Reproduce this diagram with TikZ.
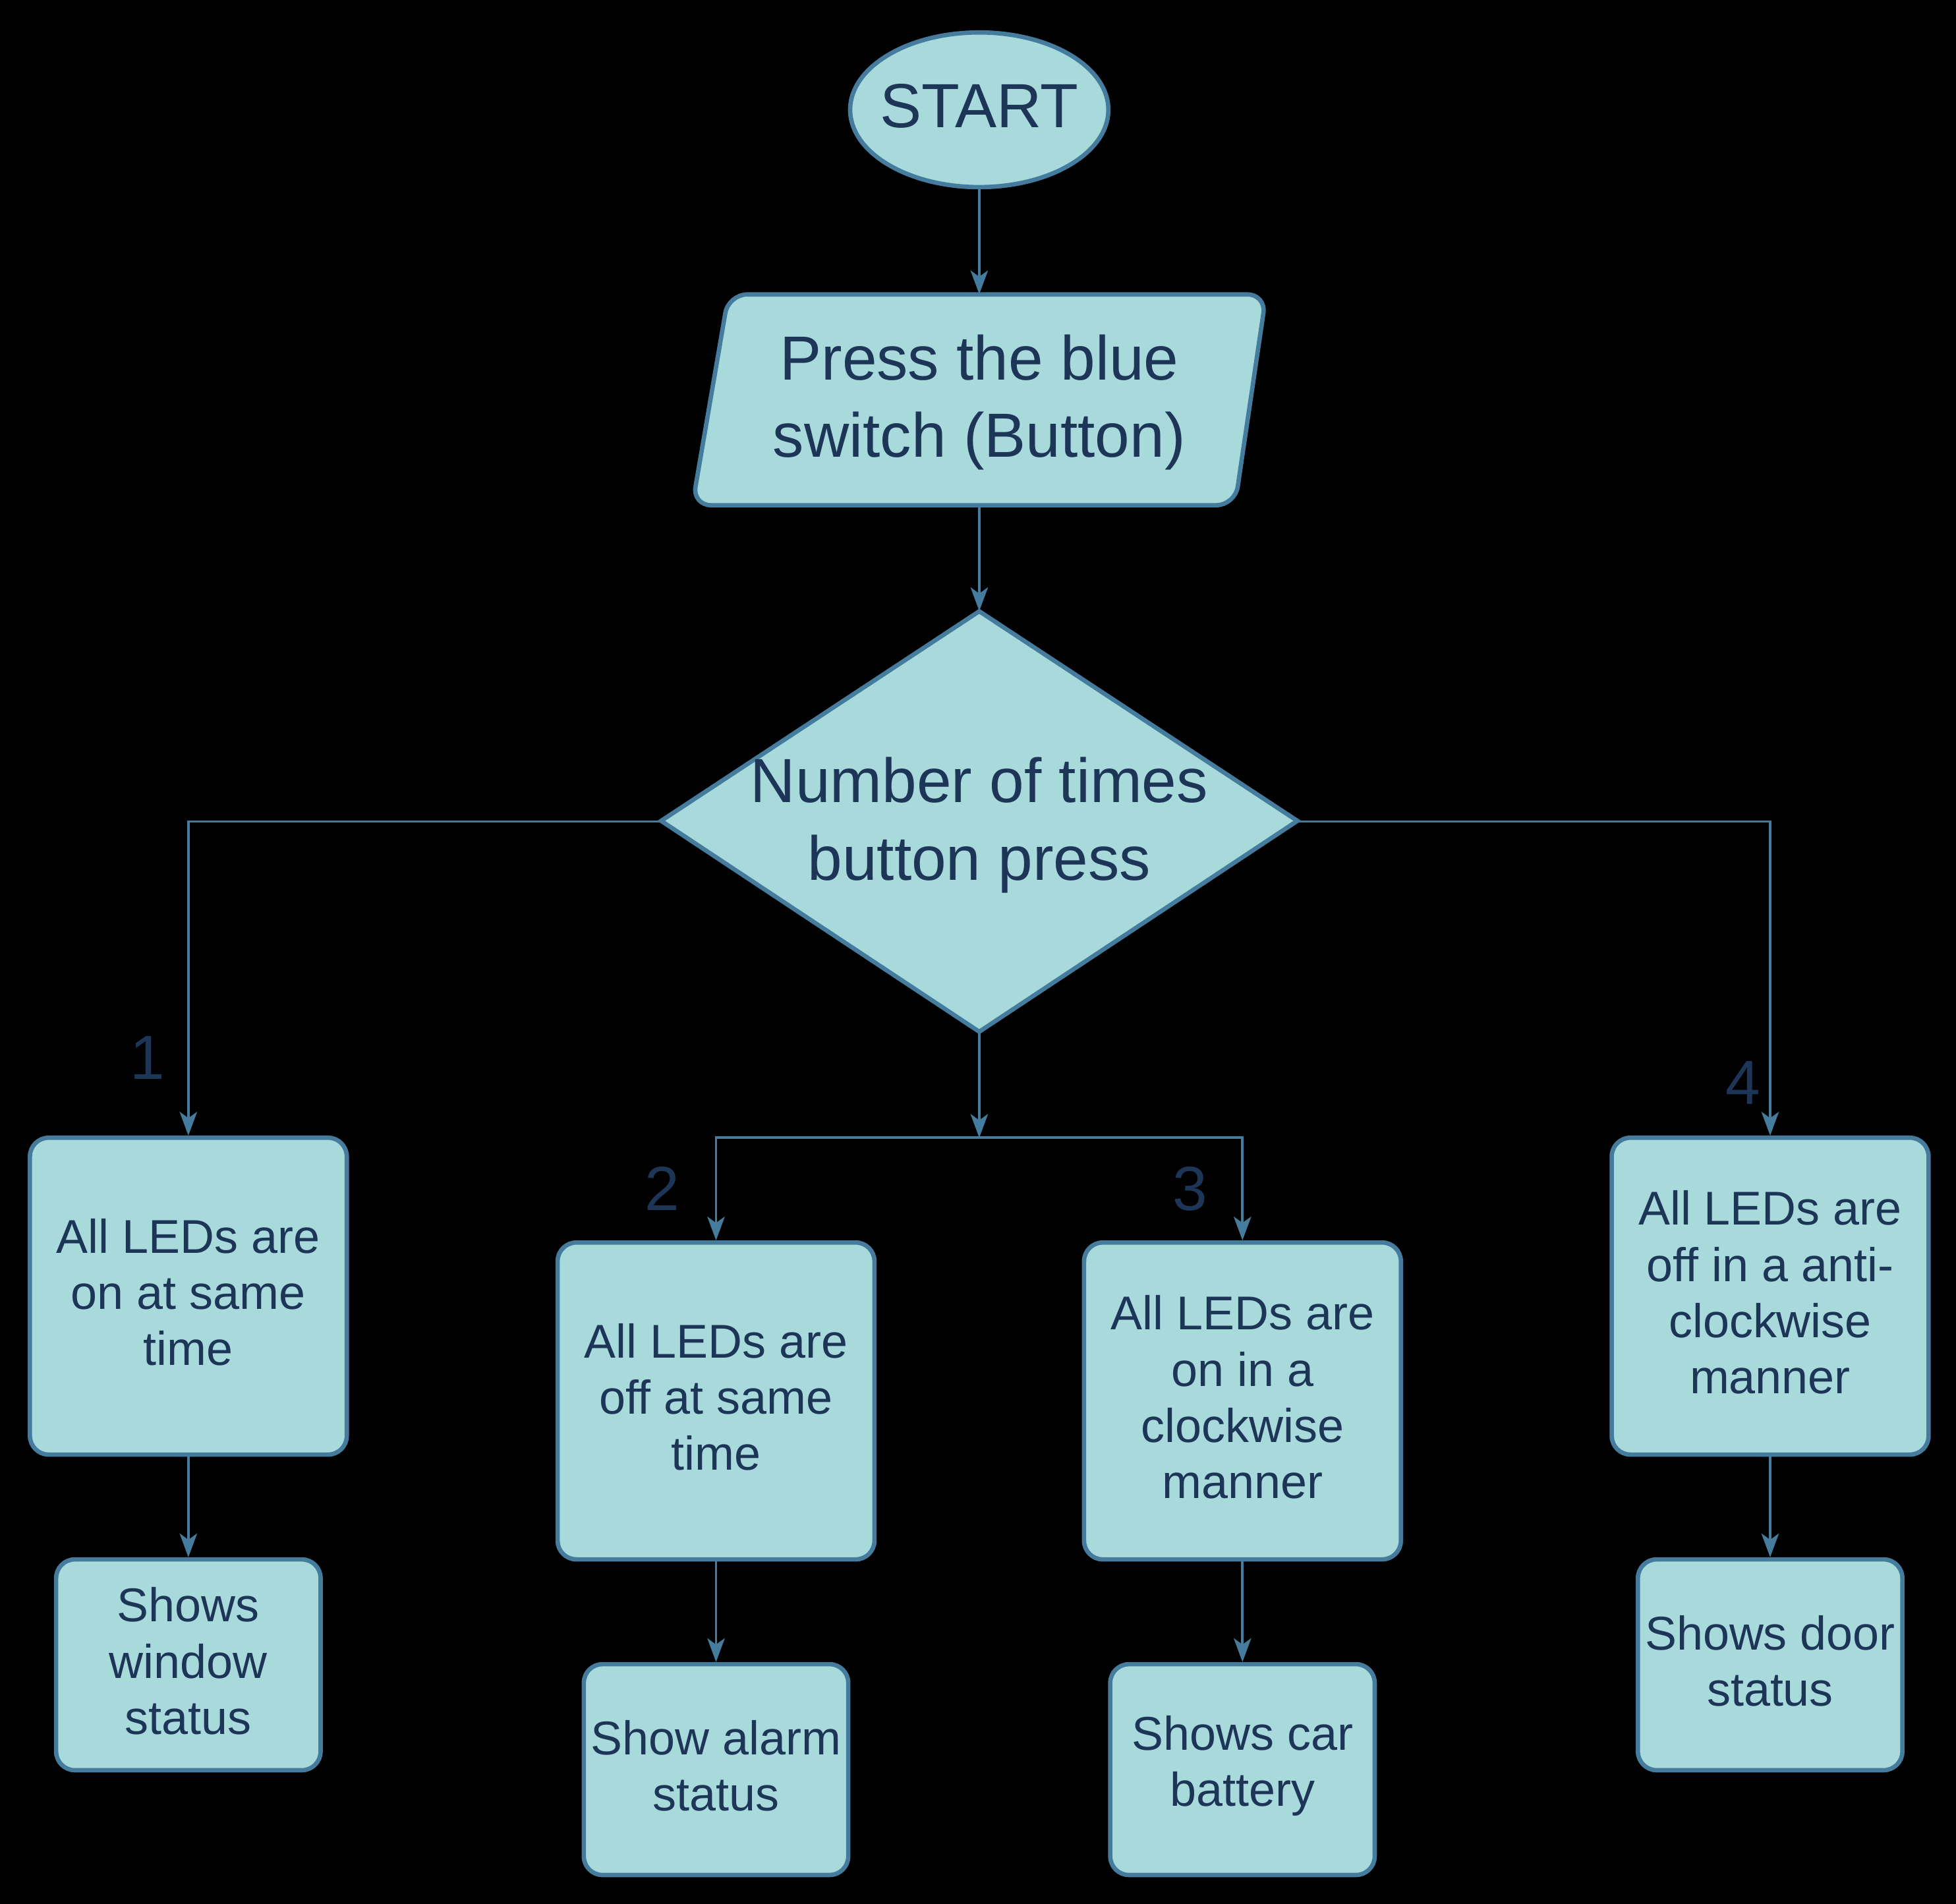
\documentclass[tikz,border=0pt]{standalone}
\usepackage{fontspec}
\setmainfont{Liberation Sans}
\usetikzlibrary{shapes.geometric,arrows.meta}
\definecolor{boxfill}{RGB}{168,218,220}
\definecolor{boxline}{RGB}{69,123,157}
\definecolor{txt}{RGB}{29,53,87}
\tikzset{
  shapeline/.style={draw=boxline, line width=3.5pt, fill=boxfill, text=txt},
  boxtext/.style={text=txt, align=center, inner sep=0pt, font=\fontsize{38}{45}\selectfont, yshift=3pt},
  bigbox/.style={shapeline, rectangle, rounded corners=15pt, minimum width=254pt, minimum height=254pt, inner sep=0pt},
  smallbox/.style={shapeline, rectangle, rounded corners=15pt, minimum width=212pt, minimum height=169pt, inner sep=0pt},
  conn/.style={draw=boxline, line width=2pt, -{Stealth[length=19pt, width=14pt, inset=5pt]}},
  numlabel/.style={text=txt, anchor=base, inner sep=0pt, font=\fontsize{50}{60}\selectfont},
}
\begin{document}
\begin{tikzpicture}[x=1pt, y=-1pt]
\fill[black] (0,0) rectangle (1568,1526);
\useasboundingbox (0,0) rectangle (1568,1526);

% START
\node[shapeline, ellipse, minimum width=207pt, minimum height=124pt, inner sep=0pt] (start) at (785,88) {};
\node[text=txt, inner sep=0pt, font=\fontsize{50}{60}\selectfont, yshift=3pt] (starttxt) at (start.center) {START};

% parallelogram
\draw[shapeline, rounded corners=15pt] (584,236) -- (1015,236) -- (990,405) -- (555,405) -- cycle;
\node[rectangle, minimum width=400pt, minimum height=169pt, inner sep=0pt] (press) at (785,320.5) {};
\node[text=txt, align=center, inner sep=0pt, font=\fontsize{50}{62}\selectfont, yshift=-2pt] (presstxt) at (press.center) {Press the blue\\switch (Button)};

% diamond
\draw[shapeline] (785,490) -- (1040,658) -- (785,827) -- (530,658) -- cycle;
\node[rectangle, minimum width=510pt, minimum height=337pt, inner sep=0pt] (dec) at (785,658.5) {};
\node[text=txt, align=center, inner sep=0pt, font=\fontsize{50}{62}\selectfont, yshift=-3pt] (dectxt) at (dec.center) {Number of times\\button press};

% boxes
\node[bigbox] (b1) at (151,1039) {};
\node[boxtext] (b1t) at (b1.center) {All LEDs are\\on at same\\time};
\node[bigbox] (b2) at (574,1123) {};
\node[boxtext] (b2t) at (b2.center) {All LEDs are\\off at same\\time};
\node[bigbox] (b3) at (996,1123) {};
\node[boxtext] (b3t) at (b3.center) {All LEDs are\\on in a\\clockwise\\manner};
\node[bigbox] (b4) at (1419,1039) {};
\node[boxtext] (b4t) at (b4.center) {All LEDs are\\off in a anti-\\clockwise\\manner};

\node[smallbox] (s1) at (151,1334.5) {};
\node[boxtext] (s1t) at (s1.center) {Shows\\window\\status};
\node[smallbox] (s2) at (574,1418.5) {};
\node[boxtext] (s2t) at (s2.center) {Show alarm\\status};
\node[smallbox] (s3) at (996,1418.5) {};
\node[boxtext] (s3t) at (s3.center) {Shows car\\battery};
\node[smallbox] (s4) at (1419,1334.5) {};
\node[boxtext] (s4t) at (s4.center) {Shows door\\status};

\coordinate (j) at (785,912);

% connectors
\draw[conn] (start.south) -- (press.north);
\draw[conn] (press.south) -- (dec.north);
\draw[conn] (dec.west) -| (b1.north);
\draw[conn] (dec.east) -| (b4.north);
\draw[conn] (dec.south) -- (j);
\draw[conn] (j) -| (b2.north);
\draw[conn] (j) -| (b3.north);
\draw[conn] (b1.south) -- (s1.north);
\draw[conn] (b2.south) -- (s2.north);
\draw[conn] (b3.south) -- (s3.north);
\draw[conn] (b4.south) -- (s4.north);

% labels
\node[numlabel] (l1) at (118,865) {1};
\node[numlabel] (l2) at (531,970) {2};
\node[numlabel] (l3) at (954,970) {3};
\node[numlabel] (l4) at (1397,885) {4};
\end{tikzpicture}
\end{document}
